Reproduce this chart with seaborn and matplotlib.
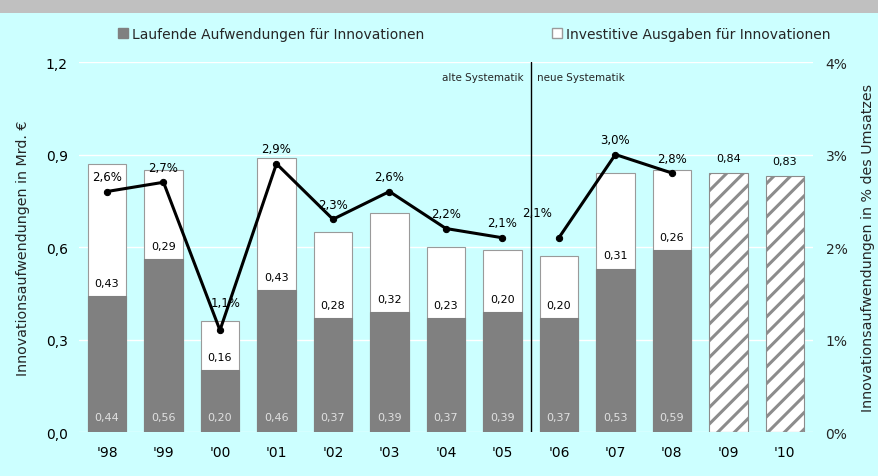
import matplotlib
matplotlib.use("Agg")
import matplotlib.pyplot as plt
import matplotlib.patches as mpatches
from matplotlib.ticker import FuncFormatter
import seaborn as sns
import pandas as pd
import numpy as np

# Daten
jahre = ["'98", "'99", "'00", "'01", "'02", "'03", "'04", "'05", "'06", "'07", "'08", "'09", "'10"]
laufend = [0.44, 0.56, 0.20, 0.46, 0.37, 0.39, 0.37, 0.39, 0.37, 0.53, 0.59, np.nan, np.nan]
investiv = [0.43, 0.29, 0.16, 0.43, 0.28, 0.32, 0.23, 0.20, 0.20, 0.31, 0.26, np.nan, np.nan]
prognose = [np.nan] * 11 + [0.84, 0.83]
anteil_alt = [2.6, 2.7, 1.1, 2.9, 2.3, 2.6, 2.2, 2.1]   # % des Umsatzes, '98-'05
anteil_neu = [2.1, 3.0, 2.8]                            # '06-'08

df = pd.DataFrame({"jahr": jahre, "laufend": laufend, "investiv": investiv, "prognose": prognose})
df["gesamt"] = (df["laufend"] + df["investiv"]).fillna(df["prognose"])

BG = "#CCFFFF"
GRAU = "#808080"

sns.set_theme(style="white")
plt.rcParams["font.family"] = ["DejaVu Sans"]
plt.rcParams["hatch.linewidth"] = 2.2

fig = plt.figure(figsize=(8.79, 4.77), dpi=100, facecolor=BG)
ax = fig.add_axes([0.0896, 0.0922, 0.8354, 0.7757])
ax.set_facecolor(BG)

# graues Band oben
fig.patches.append(mpatches.Rectangle((0, 1 - 14 / 477), 1, 14 / 477, transform=fig.transFigure,
                                      facecolor="#C0C0C0", edgecolor="none", zorder=0))

sns.barplot(data=df, x="jahr", y="gesamt", order=jahre, color="white", saturation=1,
            edgecolor="#9a9a9a", linewidth=0.8, width=0.68, ax=ax, zorder=2)
for p in ax.patches[11:13]:
    p.set_hatch("//")
    p.set_edgecolor("#8c8c8c")
sns.barplot(data=df, x="jahr", y="laufend", order=jahre, color=GRAU, saturation=1,
            edgecolor=GRAU, linewidth=0.8, width=0.68, ax=ax, zorder=3)

ax.set_ylim(0, 1.2)
ax.set_xlim(-0.5, 12.5)
ax.set_yticks([0, 0.3, 0.6, 0.9, 1.2])
ax.yaxis.set_major_formatter(FuncFormatter(lambda v, _: f"{v:.1f}".replace(".", ",")))
ax.grid(axis="y", color="white", linewidth=1)
ax.set_axisbelow(True)
for s in ax.spines.values():
    s.set_visible(False)
ax.tick_params(axis="both", length=0, labelsize=10, colors="black")
ax.tick_params(axis="y", pad=8)
ax.tick_params(axis="x", pad=9)
ax.set_xlabel("")
ax.set_ylabel("Innovationsaufwendungen in Mrd. €", fontsize=10.3, labelpad=11)

# Wertebeschriftungen
for i, row in df.iterrows():
    if not np.isnan(row["laufend"]):
        ax.text(i, 0.05, f"{row['laufend']:.2f}".replace(".", ","), ha="center", va="center",
                fontsize=8, color="#E0E0E0", zorder=5)
        ax.text(i, row["laufend"] + 0.043, f"{row['investiv']:.2f}".replace(".", ","),
                ha="center", va="center", fontsize=8, color="black", zorder=5)
    else:
        ax.text(i, row["gesamt"] + 0.05, f"{row['gesamt']:.2f}".replace(".", ","),
                ha="center", va="center", fontsize=8, color="black", zorder=5)

# Trennlinie Systematik
ax.axvline(7.5, color="black", linewidth=1, zorder=4)
ax.text(7.38, 1.152, "alte Systematik", ha="right", va="center", fontsize=7.5)
ax.text(7.62, 1.152, "neue Systematik", ha="left", va="center", fontsize=7.5)

# Anteil am Umsatz
ax2 = ax.twinx()
x_alt = list(range(len(anteil_alt)))
x_neu = list(range(8, 8 + len(anteil_neu)))
for xs, ys in [(x_alt, anteil_alt), (x_neu, anteil_neu)]:
    sns.lineplot(x=xs, y=ys, ax=ax2, color="black", linewidth=2.2, marker="o",
                 markersize=4.5, markeredgecolor="black", zorder=6)
    for xv, yv in zip(xs, ys):
        dx, dy = 0, 0.16
        if xv == 8:
            dx, dy = -0.38, 0.27
        elif xv == 2:
            dx, dy = 0.1, 0.3
        ax2.text(xv + dx, yv + dy, f"{yv:.1f}%".replace(".", ","), ha="center", va="center",
                 fontsize=8.5, color="black", zorder=7)
ax2.set_ylim(0, 4)
ax2.set_xlim(-0.5, 12.5)
ax2.set_yticks([0, 1, 2, 3, 4])
ax2.set_yticklabels(["0%", "1%", "2%", "3%", "4%"])
ax2.tick_params(axis="y", length=0, labelsize=10, pad=9)
for s in ax2.spines.values():
    s.set_visible(False)
ax2.grid(False)
ax2.set_ylabel("Innovationsaufwendungen in % des Umsatzes", fontsize=10.3, labelpad=10)

# Legende (zwei Einträge, getrennt platziert)
h1 = mpatches.Patch(facecolor=GRAU, edgecolor=GRAU, label="Laufende Aufwendungen für Innovationen")
h2 = mpatches.Patch(facecolor="white", edgecolor="#9a9a9a", label="Investitive Ausgaben für Innovationen")
for h, xa in [(h1, 118 / 879), (h2, 552 / 879)]:
    fig.legend(handles=[h], loc="center left", bbox_to_anchor=(xa, 0.927), frameon=False,
               fontsize=10, handlelength=0.7, handleheight=0.7, handletextpad=0.3,
               borderpad=0, borderaxespad=0)

fig.savefig("out.png", dpi=100, facecolor=BG)
